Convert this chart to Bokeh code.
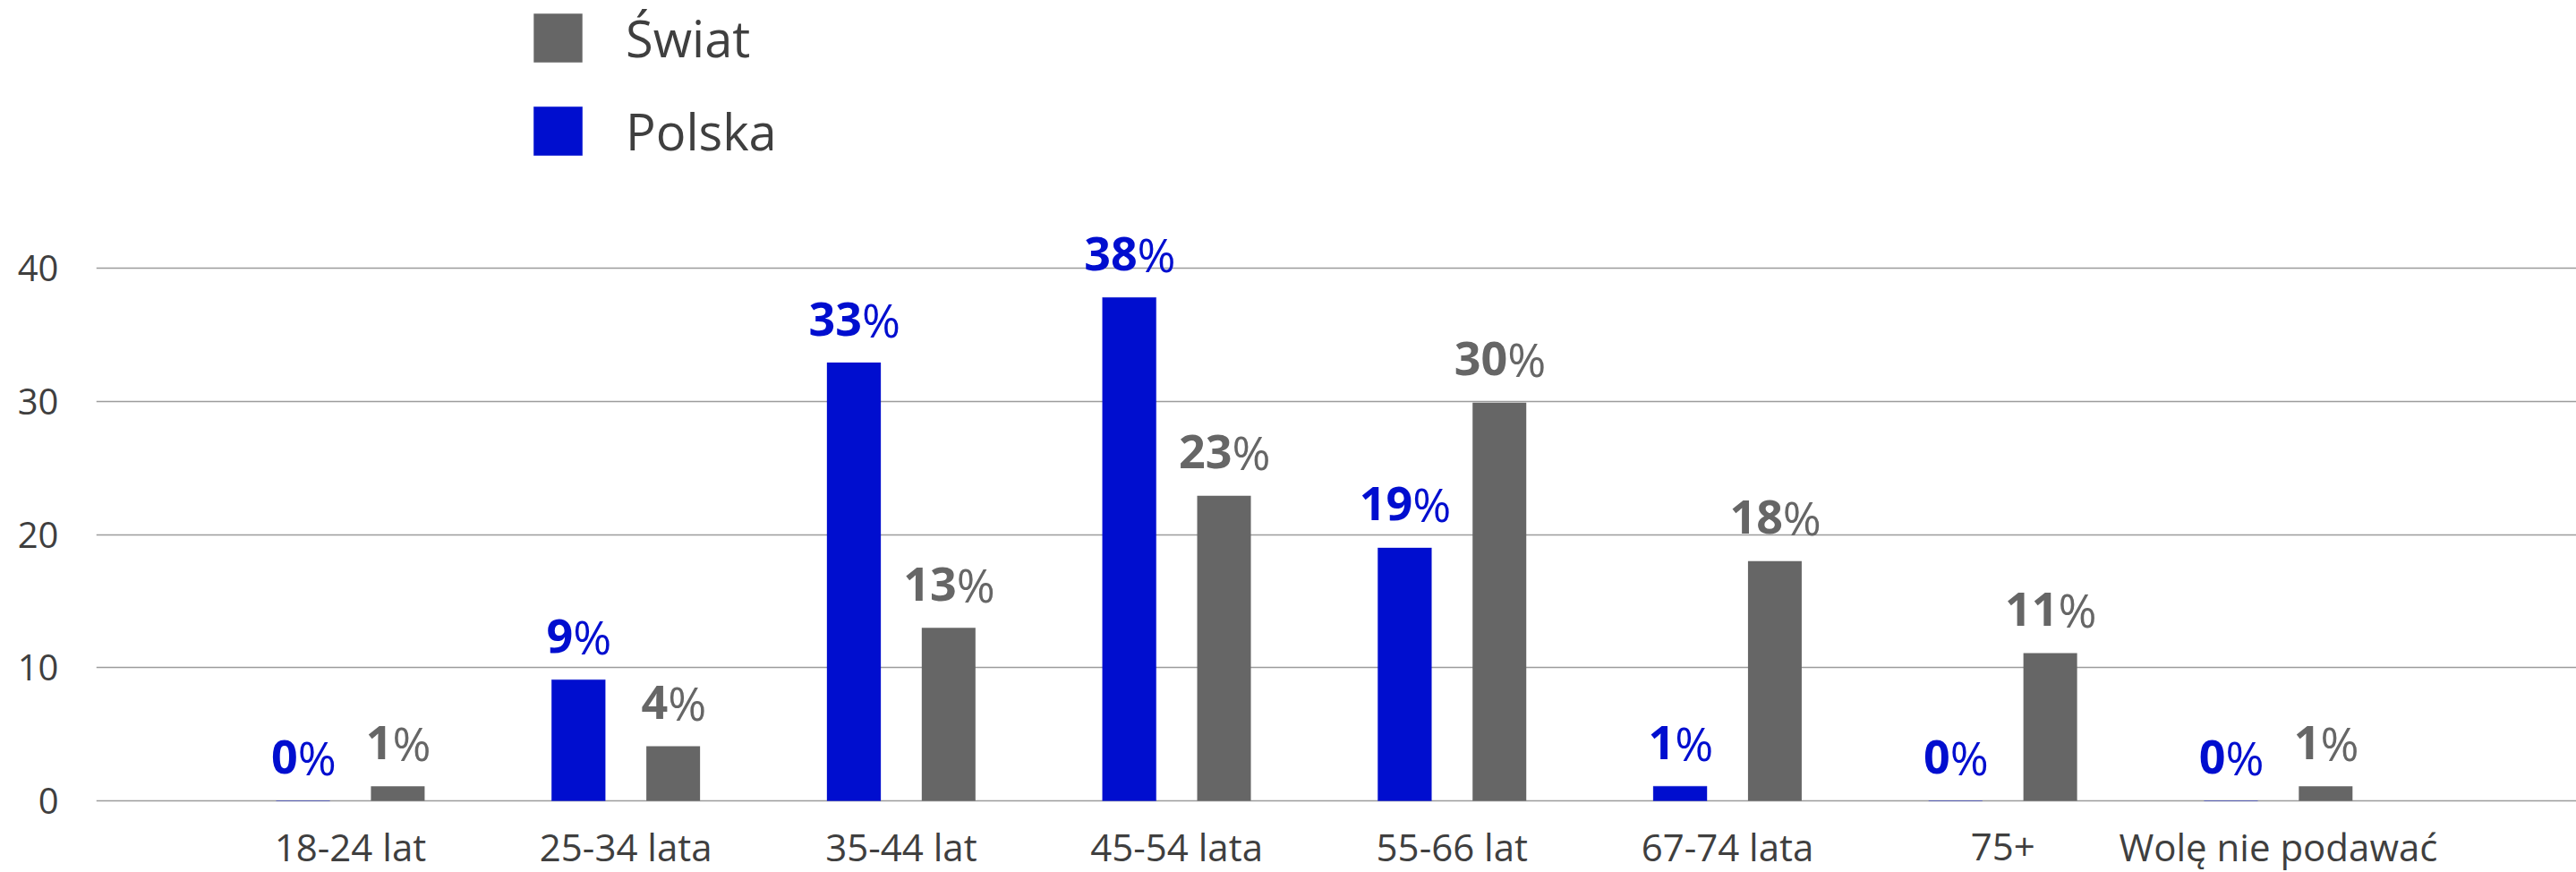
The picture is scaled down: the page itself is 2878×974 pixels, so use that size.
from bokeh.plotting import figure
from bokeh.models import ColumnDataSource, Range1d, FixedTicker, Legend, LegendItem
from bokeh.transform import dodge
from bokeh.core.properties import value
from bokeh.embed import file_html
from bokeh.resources import INLINE

# ---- data ----
categories = ["18-24 lat", "25-34 lata", "35-44 lat", "45-54 lata",
              "55-66 lat", "67-74 lata", "75+", "Wolę nie podawać"]
polska = [0, 9.1, 32.9, 37.8, 19.0, 1.1, 0, 0]
swiat = [1.1, 4.1, 13.0, 22.9, 29.9, 18.0, 11.1, 1.1]
y_ticks = [0, 10, 20, 30, 40]
legend_names = ["Świat", "Polska"]

# ---- style ----
BLUE = "#000ECF"
GRAY = "#666666"
TEXT = "#3f3f3f"
FONT = "Open Sans"

W, H = 2878, 974
LEFT = 107
PX_CAT = 307.7          # pixels per category
FIRST_C = 391           # pixel of first category centre
ZERO_Y = 894            # pixel of y = 0
PX_Y = 14.875           # pixels per y unit
BAR_W = 0.195
OFF = 0.172

x_start = -(FIRST_C - LEFT) / PX_CAT
x_end = (W - FIRST_C) / PX_CAT
y_start = -(H - ZERO_Y) / PX_Y
y_end = ZERO_Y / PX_Y

xs = list(range(len(categories)))


def num(v):
    return str(int(round(v)))


def centre_dx(n):
    # shift so that bold digits + regular "%" are centred on the bar
    w_num = 0.572 * 52 * len(n)
    w_pct = 0.80 * 52
    return (w_num - w_pct) / 2.0


src = ColumnDataSource(dict(
    x=xs, polska=polska, swiat=swiat, cat=categories,
    zero=[0] * len(xs),
    p_num=[num(v) for v in polska], s_num=[num(v) for v in swiat],
    pct=["%"] * len(xs),
    p_dx=[centre_dx(num(v)) for v in polska],
    s_dx=[centre_dx(num(v)) for v in swiat],
))

p = figure(width=W, height=H, output_backend="svg", toolbar_location=None,
           x_range=Range1d(x_start, x_end), y_range=Range1d(y_start, y_end),
           min_border_left=LEFT, min_border_right=0, min_border_top=0,
           min_border_bottom=0)
p.outline_line_color = None
p.background_fill_color = "white"
p.xaxis.visible = False

r_pl = p.vbar(x=dodge("x", -OFF, range=p.x_range), top="polska", bottom=0,
              width=BAR_W, source=src, fill_color=BLUE, line_color=BLUE,
              line_alpha=0.25)
r_sw = p.vbar(x=dodge("x", OFF, range=p.x_range), top="swiat", bottom=0,
              width=BAR_W, source=src, fill_color=GRAY, line_color=None)

for col, numcol, dxcol, off, color in [("polska", "p_num", "p_dx", -OFF, BLUE),
                                        ("swiat", "s_num", "s_dx", OFF, GRAY)]:
    p.text(x=dodge("x", off, range=p.x_range), y=col, text=numcol, source=src,
           text_font=value(FONT), text_font_style="bold", text_font_size="52px",
           text_align="right", text_baseline="alphabetic", x_offset=dxcol,
           y_offset=-49, text_color=color)
    p.text(x=dodge("x", off, range=p.x_range), y=col, text="pct", source=src,
           text_font=value(FONT), text_font_style="normal", text_font_size="52px",
           text_align="left", text_baseline="alphabetic", x_offset=dxcol,
           y_offset=-49, text_color=color)

# category labels under the zero line
p.text(x="x", y="zero", text="cat", source=src, text_font=value(FONT),
       text_font_size="42px", text_align="center", text_baseline="alphabetic",
       y_offset=51, text_color=TEXT)

# y axis
p.yaxis.ticker = FixedTicker(ticks=y_ticks)
ax = p.yaxis[0]
ax.axis_line_color = None
ax.major_tick_line_color = None
ax.minor_tick_line_color = None
ax.major_tick_in = 0
ax.major_tick_out = 0
ax.major_label_text_font = FONT
ax.major_label_text_font_size = "40px"
ax.major_label_text_color = TEXT
ax.major_label_standoff = 42

p.xgrid.grid_line_color = None
p.ygrid.ticker = FixedTicker(ticks=y_ticks)
p.ygrid.grid_line_color = "#9c9c9c"
p.ygrid.grid_line_width = 1.5

legend = Legend(items=[LegendItem(label=legend_names[0], renderers=[r_sw]),
                       LegendItem(label=legend_names[1], renderers=[r_pl])],
                location=(482, 789), orientation="vertical",
                glyph_width=68, glyph_height=68, label_standoff=42, spacing=26,
                padding=0, margin=0, border_line_color=None,
                background_fill_alpha=0,
                label_text_font=FONT, label_text_font_size="56px",
                label_text_color=TEXT, label_height=78)
p.add_layout(legend)

open("out.html", "w").write(file_html(p, INLINE))
